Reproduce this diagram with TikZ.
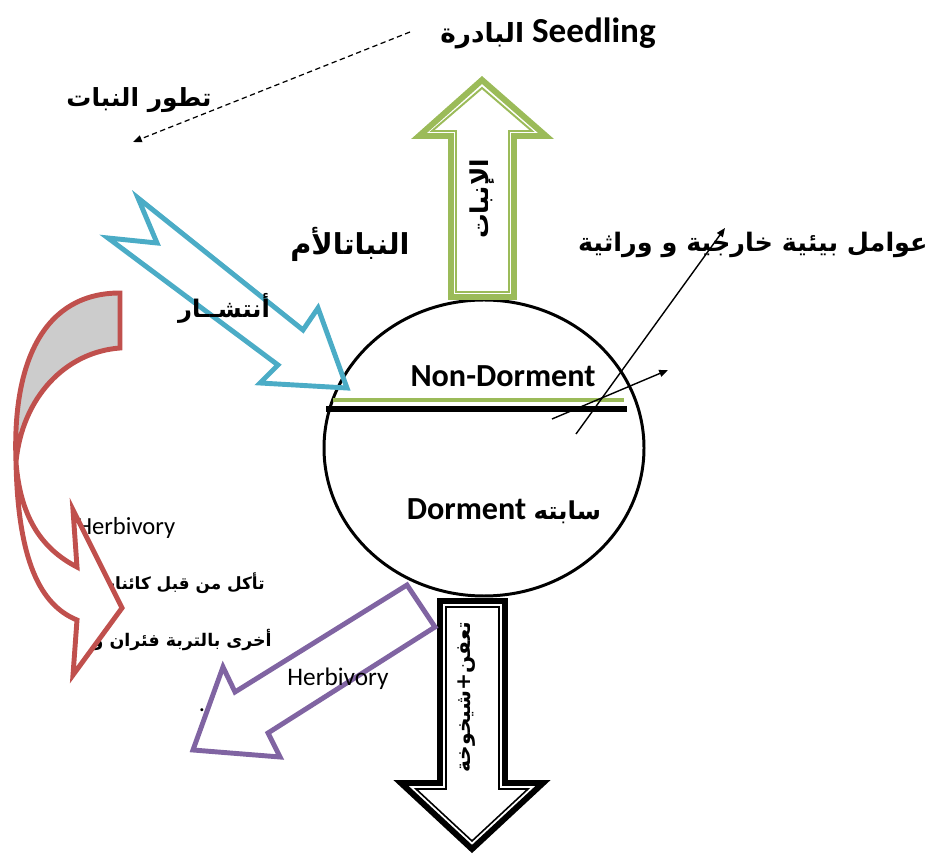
\documentclass[tikz,border=0pt]{standalone}
\usepackage{fontspec}
\setmainfont{Carlito}
\newfontfamily\arabicfont[Script=Arabic]{DejaVu Sans}
\TeXXeTstate=1
\usetikzlibrary{arrows.meta}
\definecolor{agreen}{HTML}{9BBB59}
\definecolor{ablue}{HTML}{4BACC6}
\definecolor{ared}{HTML}{C0504D}
\definecolor{apurple}{HTML}{8064A2}
\definecolor{agray}{HTML}{CCCCCC}
\newcommand{\artext}[1]{{\arabicfont\beginR #1\endR}}
\newcommand{\fsz}[1]{\fontsize{#1}{#1}\selectfont}
\begin{document}
\begin{tikzpicture}[
            x=0.02cm, y=-0.02cm,
            lbl/.style={inner sep=0pt, font=\bfseries\fsz{#1}},
            plainlbl/.style={inner sep=0pt, font=\fsz{#1}},
            blockarrow/.style={draw=#1, line width=2.8pt, line join=miter, fill=white},
            thinarrow/.style={line width=0.8pt, -{Triangle[length=5pt, width=4pt]}}
        ]
            \useasboundingbox (0,0) rectangle (933,857);

            % 标题与说明文字
            \node[lbl=20] (seedling) at (548,33) {{\fsz{15}\artext{البادرة}} Seedling};
            \node[lbl=14.2] (growth) at (139,100) {\artext{تطور النبات}};
            \node[lbl=16.4] (mother) at (350,244) {\artext{النباتالأم}};
            \node[lbl=14.5, anchor=east] (factors) at (928,245) {\artext{عوامل بيئية خارجية و وراثية}};
            \node[plainlbl=14] (herbleft) at (126,528) {Herbivory};
            \node[lbl=9.6, anchor=east] (eatenA) at (265,583) {\artext{تأكل من قبل كائنات}};
            \node[lbl=9.9, anchor=east] (eatenB) at (272,640) {\artext{أخرى بالتربة فئران و}};
            \node[plainlbl=14] (dot) at (202,710) {.};

            % 虚线箭头
            \coordinate (dstart) at (410,32);
            \coordinate (dend) at (133,142);
            \draw[line width=0.7pt, dash pattern=on 3pt off 2pt, -{Triangle[length=5pt, width=4pt]}] (dstart) -- (dend);

            % 红色弯箭头
            \draw[blockarrow=ared, fill=agray] (120,293) -- (120,348)
                .. controls (65,352) and (22,398) .. (16,462)
                .. controls (12,360) and (45,293) .. (120,293) -- cycle;
            \draw[blockarrow=ared] (16,462) .. controls (18,560) and (40,605) .. (77,620)
                -- (73,675) -- (122,608) -- (73,510) -- (77,567)
                .. controls (40,548) and (20,515) .. (16,462) -- cycle;

            % 种子
            \draw[line width=1.7pt] (484,448) ellipse [x radius=160, y radius=148];
            \coordinate (barL) at (326,409);
            \coordinate (barR) at (627,409);
            \coordinate (grnL) at (333,400);
            \coordinate (grnR) at (624,400);
            \draw[agreen, line width=2.3pt] (grnL) -- (grnR);
            \draw[line width=3.4pt] (barL) -- (barR);
            \node[lbl=18.3] (nondorm) at (503,376) {Non-Dorment};
            \node[lbl=18.3] (dorm) at (504,511) {Dorment {\fsz{14}\artext{سابته}}};

            % 蓝色锯齿箭头
            \draw[blockarrow=ablue, fill=none] (138,198) -- (303,330) -- (318,308) -- (347,388)
                -- (260,383) -- (278,365) -- (108,238) -- (157,243) -- cycle;
            \node[lbl=13.8] (spread) at (224,308) {\artext{أنتشــار}};

            % 绿色向上箭头
            \draw[blockarrow=agreen, line width=3.4pt] (482,80) -- (546,136) -- (514,136) -- (514,297)
                -- (451,297) -- (451,136) -- (419,136) -- cycle;
            \draw[agreen, line width=1.1pt, line join=miter] (482,88) -- (532,131) -- (509,131) -- (509,292)
                -- (456,292) -- (456,131) -- (432,131) -- cycle;
            \node[lbl=14, rotate=90] (germ) at (482,199) {\artext{الإنبات}};

            % 黑色向下箭头
            \draw[blockarrow=black, line width=3.4pt] (440,601) -- (505,601) -- (505,783) -- (543,783)
                -- (472,849) -- (401,783) -- (440,783) -- cycle;
            \draw[line width=0.9pt, line join=miter] (446,607) -- (499,607) -- (499,789) -- (528,789)
                -- (472,841) -- (416,789) -- (446,789) -- cycle;
            \node[lbl=11.5, rotate=90] (decay) at (467,697) {\artext{تعفن+شيخوخة}};

            % 紫色箭头
            \draw[blockarrow=apurple, fill=none] (407,585) -- (235,692) -- (223,667) -- (193,750)
                -- (280,757) -- (268,733) -- (435,627) -- cycle;
            \node[plainlbl=14.4] (herbright) at (338,679) {Herbivory};

            % 细箭头
            \coordinate (fstart) at (576,434);
            \coordinate (fend) at (725,228);
            \draw[thinarrow] (fstart) -- (fend);
            \coordinate (ostart) at (552,419);
            \coordinate (oend) at (668,370);
            \draw[thinarrow] (ostart) -- (oend);
        \end{tikzpicture}
\end{document}
